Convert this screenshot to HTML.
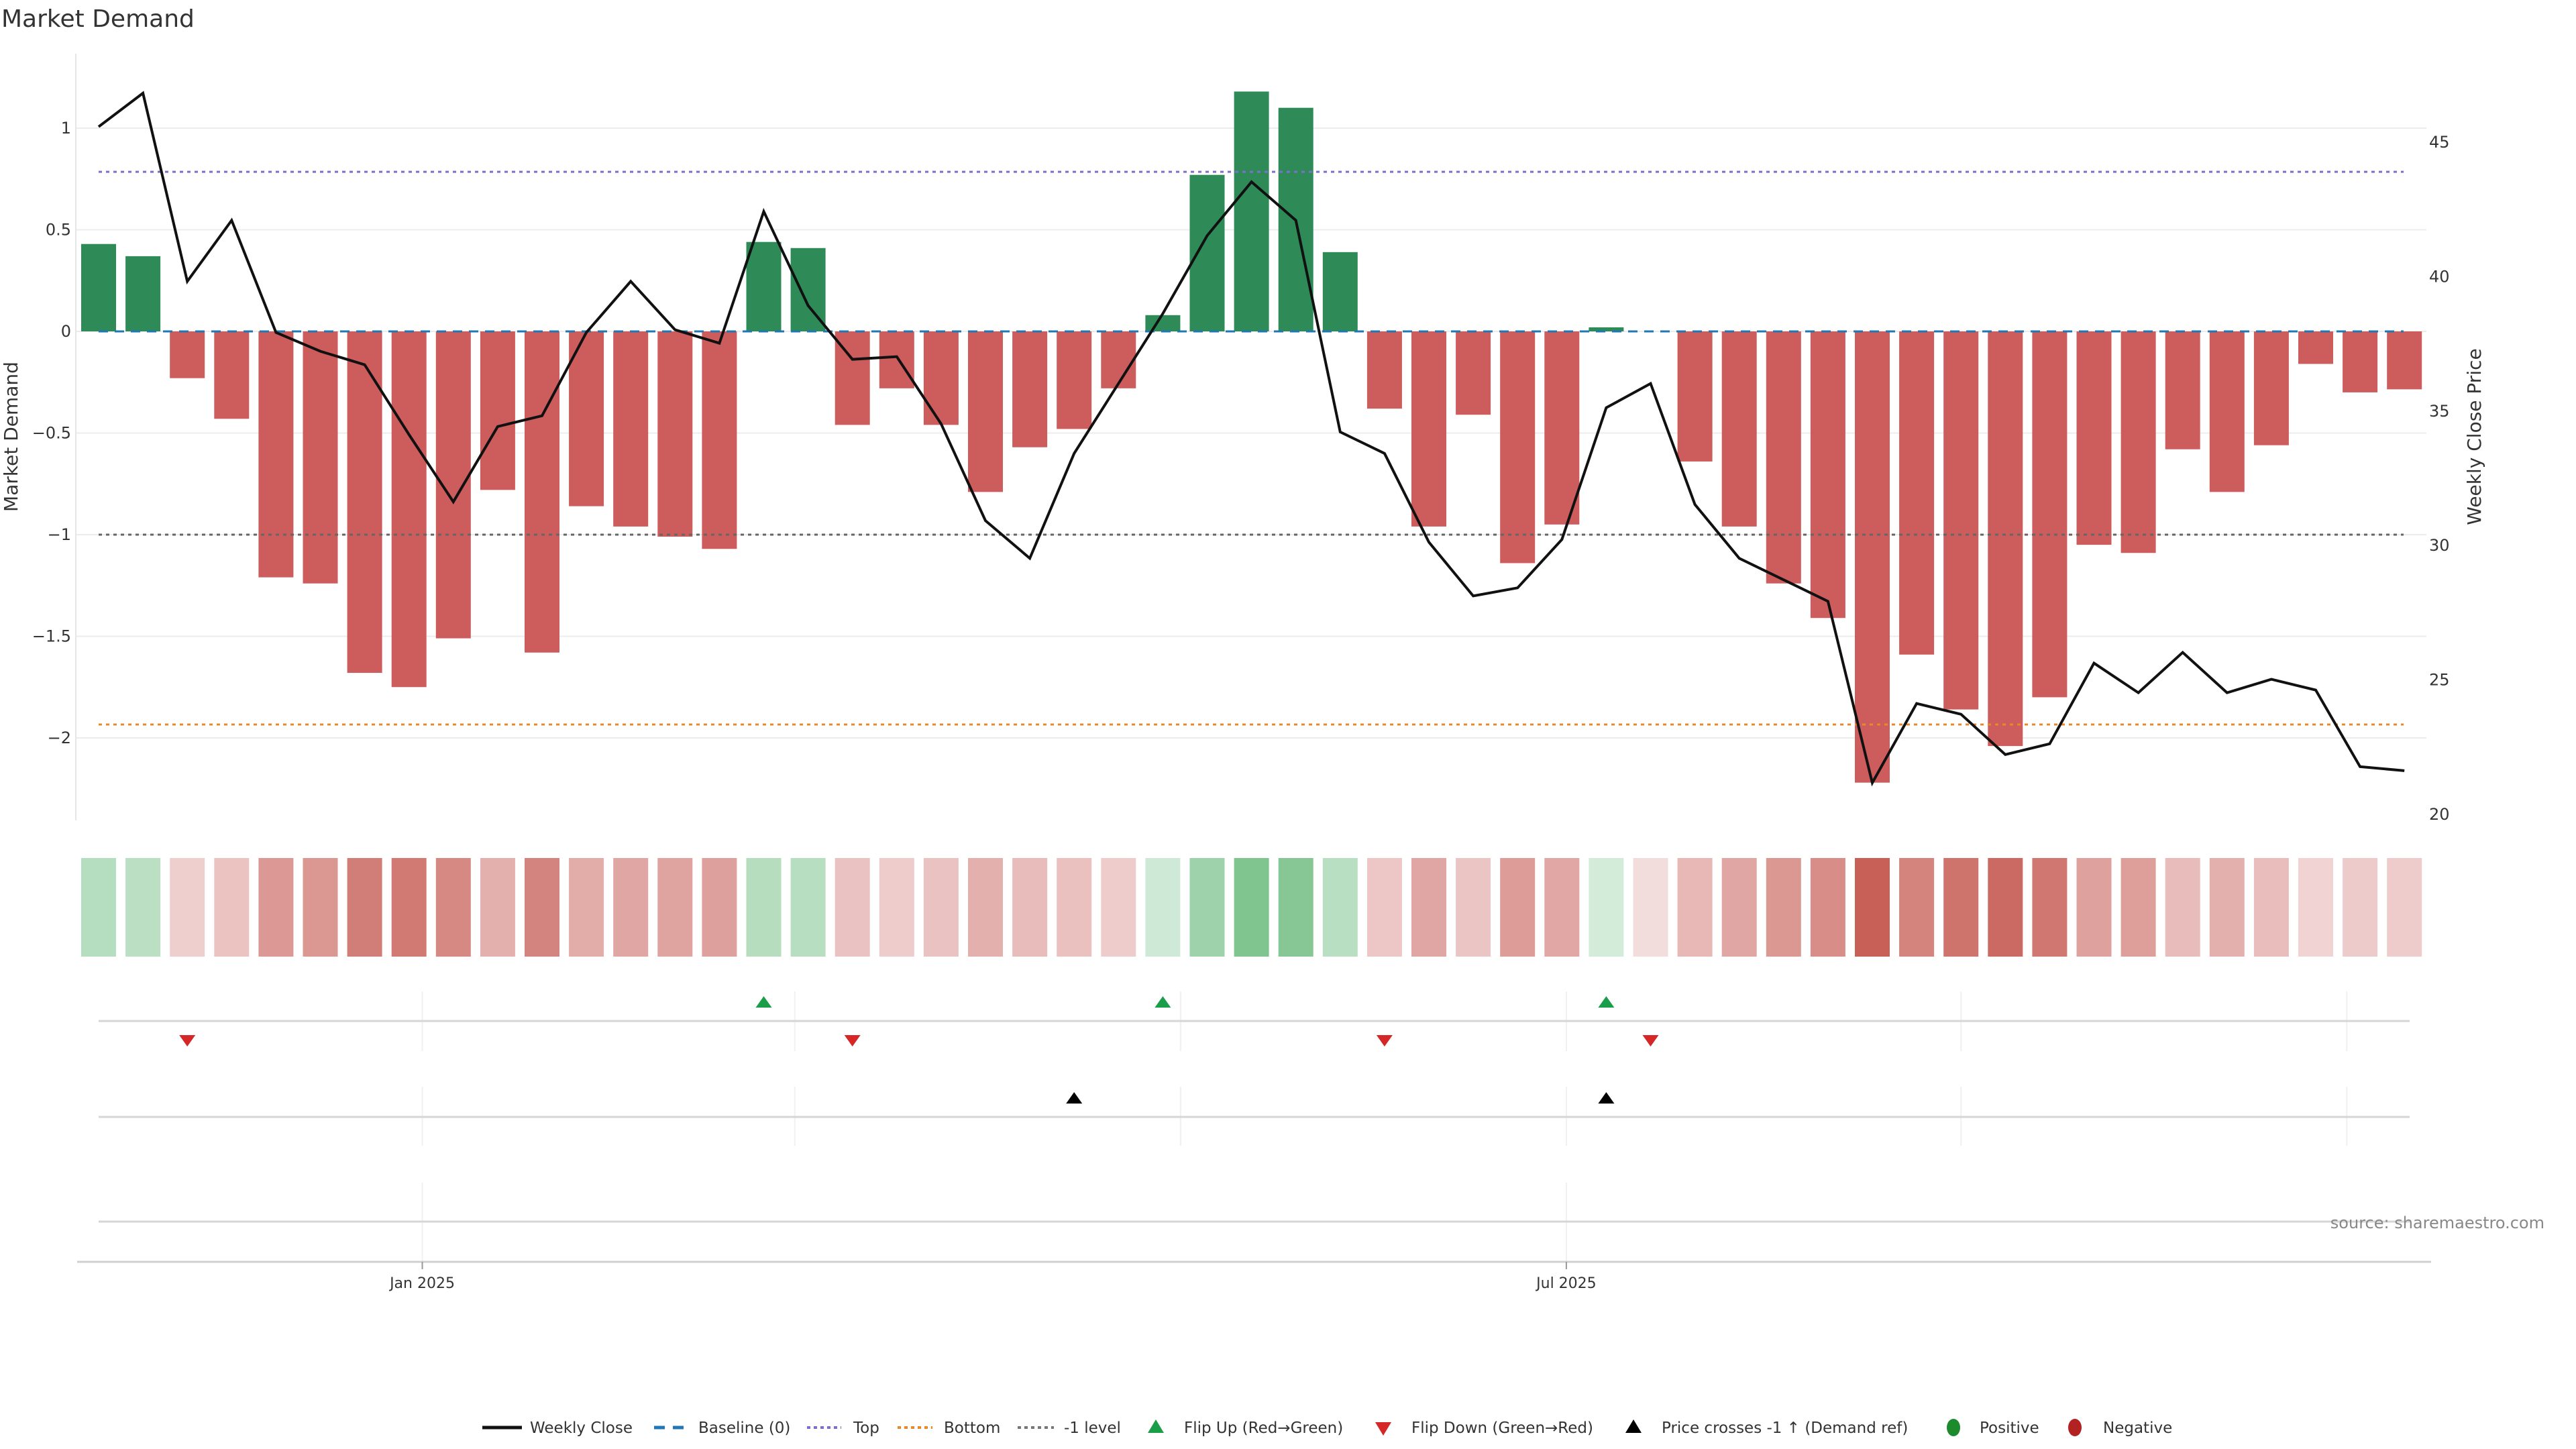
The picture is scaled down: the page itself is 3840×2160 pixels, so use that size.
<!DOCTYPE html>
<html><head><meta charset="utf-8"><style>
html,body{margin:0;padding:0;background:#fff;}
svg{display:block;font-family:"DejaVu Sans","Liberation Sans",sans-serif;}
</style></head><body>
<svg id="chart" width="3840" height="2160" viewBox="0 0 3840 2160">
<text x="2" y="40" font-size="36" fill="#333">Market Demand</text>
<g id="g"></g>
</svg>
<script>
const demand=[0.43,0.37,-0.23,-0.43,-1.21,-1.24,-1.68,-1.75,-1.51,-0.78,-1.58,-0.86,-0.96,-1.01,-1.07,0.44,0.41,-0.46,-0.28,-0.46,-0.79,-0.57,-0.48,-0.28,0.08,0.77,1.18,1.10,0.39,-0.38,-0.96,-0.41,-1.14,-0.95,0.02,0,-0.64,-0.96,-1.24,-1.41,-2.22,-1.59,-1.86,-2.04,-1.80,-1.05,-1.09,-0.58,-0.79,-0.56,-0.16,-0.30,-0.285];
const price=[45.55,46.8,39.8,42.07,37.9,37.2,36.7,34.1,31.6,34.4,34.8,37.9,39.8,38.0,37.5,42.4,38.9,36.9,37.0,34.5,30.9,29.5,33.4,36.0,38.6,41.5,43.5,42.07,34.2,33.4,30.1,28.1,28.4,30.2,35.1,36.0,31.5,29.5,28.7,27.9,21.15,24.1,23.7,22.2,22.6,25.6,24.5,26.0,24.5,25.0,24.6,21.75,21.6];
const flipUp=[15,24,34];
const flipDown=[2,17,29,35];
const priceCross=[22,34];
const demandTicks=[1,0.5,0,-0.5,-1,-1.5,-2];
const demandTickLabels=["1","0.5","0","\u22120.5","\u22121","\u22121.5","\u22122"];
const priceTicks=[20,25,30,35,40,45];
const refTop=[0.785];
const refBottom=[-1.934];
const refMinus1=[-1];
const dateTicks=[{i:7.3,label:"Jan 2025"},{i:33.1,label:"Jul 2025"}];
const monthGrid=[7.3,15.7,24.4,33.1,42.0,50.7];

const NS="http://www.w3.org/2000/svg";
const g=document.getElementById('g');
function mk(tag,attrs,parent){const e=document.createElementNS(NS,tag);for(const k in attrs)e.setAttribute(k,attrs[k]);(parent||g).appendChild(e);return e;}
const xAt=i=>147+i*66.1;
const yD=v=>494-v*303;
const yP=p=>1213-(p-20)*40.08;
const BW=52;

demandTicks.forEach((t,k)=>{
  const l=mk('line',{x1:113,x2:3617,y1:yD(t),y2:yD(t),stroke:'#ececec','stroke-width':2});
  
  
  const tx=mk('text',{x:106,y:yD(t)+8,'text-anchor':'end','font-size':24,fill:'#333'});
  tx.textContent=demandTickLabels[k];
  
  
});
mk('line',{x1:113,x2:113,y1:80,y2:1223,stroke:'#e6e6e6','stroke-width':2});
priceTicks.forEach(t=>{
  const tx=mk('text',{x:3621,y:yP(t)+9,'font-size':24,fill:'#333'});
  tx.textContent=String(t);
  
  
});
let t1=mk('text',{x:0,y:0,'font-size':28,fill:'#333','text-anchor':'middle',transform:'translate(26,651) rotate(-90)'});
t1.textContent='Market Demand';


let t2=mk('text',{x:0,y:0,'font-size':28,fill:'#333','text-anchor':'middle',transform:'translate(3698,651) rotate(-90)'});
t2.textContent='Weekly Close Price';



demand.forEach((v,i)=>{
  const y0=yD(0),y1=yD(v);
  const r=mk('rect',{x:xAt(i)-BW/2,y:Math.min(y0,y1),width:BW,height:Math.abs(y1-y0),fill:v>=0?'#2e8b57':'#cd5c5c'});
  
  
});

function href(v,color,dash,name){
  const l=mk('line',{x1:147,x2:3583,y1:yD(v),y2:yD(v),stroke:color,'stroke-width':3,'stroke-dasharray':dash});
  
  
}
href(0,'#1f77b4','14 10','baseline-line');
href(refTop[0],'#7b6fd0','5 6','top-line');
href(refBottom[0],'#e8882a','5 6','bottom-line');
href(refMinus1[0],'#666','5 6','minus-one-line');

const pl=mk('polyline',{points:price.map((p,i)=>xAt(i)+','+yP(p)).join(' '),fill:'none',stroke:'#111','stroke-width':4,'stroke-linejoin':'miter'});



function mix(a,b,t){return 'rgb('+a.map((c,k)=>Math.round(c+(b[k]-c)*t)).join(',')+')';}
demand.forEach((v,i)=>{
  const t=Math.min(1,Math.abs(v)/2.22);
  const col=v>0?mix([212,236,218],[128,196,144],Math.min(1,v/1.18)):mix([243,220,220],[200,96,88],t);
  const r=mk('rect',{x:xAt(i)-BW/2,y:1279,width:BW,height:147,fill:col});
  
  
});

[[1478,1567,1522],[1620,1708,1665],[1763,1881,1821]].forEach((rw,k)=>{
  monthGrid.forEach((m,j)=>{
    if(k===2 && !(j===0||j===3))return;
    mk('line',{x1:xAt(m),x2:xAt(m),y1:rw[0],y2:rw[1],stroke:'#f0f0f0','stroke-width':2});
  });
  const l=mk('line',{x1:147,x2:3592,y1:rw[2],y2:rw[2],stroke:'#d6d6d6','stroke-width':3});
  
  
});
function tri(i,y,up,color,name){
  const x=xAt(i);
  const pts=up?`${x-12},${y+8} ${x+12},${y+8} ${x},${y-9}`:`${x-12},${y-8} ${x+12},${y-8} ${x},${y+9}`;
  const p=mk('polygon',{points:pts,fill:color});
  
  
}
flipUp.forEach(i=>tri(i,1494,true,'#1a9e4a','flip-up-marker'));
flipDown.forEach(i=>tri(i,1551,false,'#d62728','flip-down-marker'));
priceCross.forEach(i=>tri(i,1637,true,'#000','price-cross-marker'));

mk('line',{x1:115,x2:3624,y1:1881,y2:1881,stroke:'#d0d0d0','stroke-width':3});
dateTicks.forEach(d=>{
  mk('line',{x1:xAt(d.i),x2:xAt(d.i),y1:1881,y2:1892,stroke:'#999','stroke-width':2});
  const tx=mk('text',{x:xAt(d.i),y:1920,'text-anchor':'middle','font-size':22,fill:'#333'});
  tx.textContent=d.label;
  
  
});
const src=mk('text',{x:3793,y:1831,'text-anchor':'end','font-size':24,fill:'#888'});
src.textContent='source: sharemaestro.com';



const LY=2128;
const lg=mk('g',{});


function ltext(x,s){const t=mk('text',{x:x,y:LY+8,'font-size':23,fill:'#333'},lg);t.textContent=s;}
mk('line',{x1:719,x2:778,y1:LY,y2:LY,stroke:'#111','stroke-width':5},lg);ltext(790,'Weekly Close');
mk('line',{x1:975,x2:1022,y1:LY,y2:LY,stroke:'#1f77b4','stroke-width':5,'stroke-dasharray':'16 12'},lg);ltext(1041,'Baseline (0)');
mk('line',{x1:1203,x2:1254,y1:LY,y2:LY,stroke:'#7b6fd0','stroke-width':4,'stroke-dasharray':'5 5'},lg);ltext(1272,'Top');
mk('line',{x1:1338,x2:1390,y1:LY,y2:LY,stroke:'#e8882a','stroke-width':4,'stroke-dasharray':'5 5'},lg);ltext(1407,'Bottom');
mk('line',{x1:1517,x2:1571,y1:LY,y2:LY,stroke:'#777','stroke-width':4,'stroke-dasharray':'5 5'},lg);ltext(1586,'-1 level');
mk('polygon',{points:`1711,${LY+8} 1735,${LY+8} 1723,${LY-12}`,fill:'#1a9e4a'},lg);ltext(1765,'Flip Up (Red\u2192Green)');
mk('polygon',{points:`2050,${LY-8} 2074,${LY-8} 2062,${LY+12}`,fill:'#d62728'},lg);ltext(2104,'Flip Down (Green\u2192Red)');
mk('polygon',{points:`2423,${LY+8} 2447,${LY+8} 2435,${LY-12}`,fill:'#000'},lg);ltext(2477,'Price crosses -1 \u2191 (Demand ref)');
mk('ellipse',{cx:2912,cy:LY,rx:10,ry:13,fill:'#1e8a2e'},lg);ltext(2951,'Positive');
mk('ellipse',{cx:3093,cy:LY,rx:10,ry:13,fill:'#b22222'},lg);ltext(3135,'Negative');
</script>
</body></html>
